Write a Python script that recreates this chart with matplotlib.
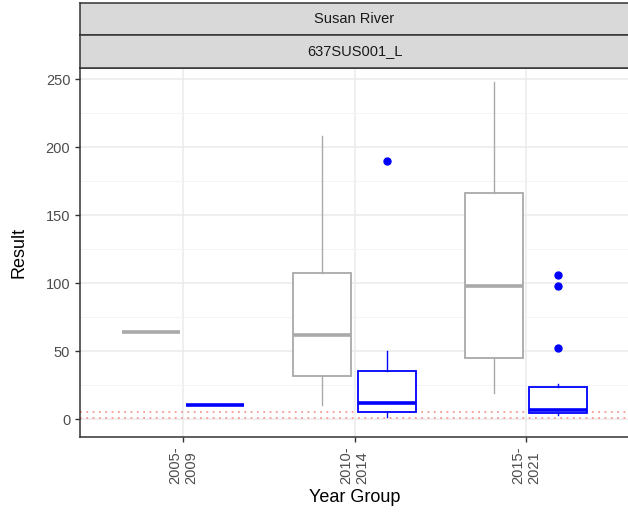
import matplotlib
matplotlib.use("Agg")
import matplotlib.pyplot as plt

plt.rcParams['font.family'] = ['Liberation Sans', 'DejaVu Sans']

# data (box stats per year group)
year_groups = ["2005-\n2009", "2010-\n2014", "2015-\n2021"]
site_name = "Susan River"
site_code = "637SUS001_L"

# gray series
gray_whislo = [64, 10, 19]
gray_q1 = [64, 32, 45]
gray_med = [64, 62, 98]
gray_q3 = [64, 107.5, 166]
gray_whishi = [64, 208, 248]
gray_fliers = [[], [], []]

# blue series
blue_whislo = [10, 1.8, 3]
blue_q1 = [10, 5.4, 4.2]
blue_med = [10, 12, 6.5]
blue_q3 = [10, 35, 23.3]
blue_whishi = [10, 50, 25.7]
blue_fliers = [[], [190], [106, 98, 52]]

guide_lines = [1, 5]

gray_col = "#A9A9A9"
blue_col = "#0000FF"

fig = plt.figure(figsize=(6.28, 5.15), dpi=100)
W, H = 628, 515
def box(l, t, r, b):
    return [l / W, 1 - b / H, (r - l) / W, (b - t) / H]

ax = fig.add_axes(box(80, 68, 629, 437))

def stats(lo, q1, med, q3, hi, fl):
    out = []
    for i in range(len(lo)):
        out.append(dict(whislo=lo[i], q1=q1[i], med=med[i], q3=q3[i], whishi=hi[i], fliers=fl[i]))
    return out

pos = list(range(1, len(year_groups) + 1))
off = 0.1875
bw = 0.3375
for st, col, sign in [(stats(gray_whislo, gray_q1, gray_med, gray_q3, gray_whishi, gray_fliers), gray_col, -1),
                      (stats(blue_whislo, blue_q1, blue_med, blue_q3, blue_whishi, blue_fliers), blue_col, 1)]:
    ax.bxp(st, positions=[p + sign * off for p in pos], widths=bw, showcaps=False,
           patch_artist=True,
           boxprops=dict(facecolor="white", edgecolor=col, linewidth=1.3),
           medianprops=dict(color=col, linewidth=2.6, solid_capstyle="butt"),
           whiskerprops=dict(color=col, linewidth=1.0),
           flierprops=dict(marker="o", markerfacecolor=col, markeredgecolor=col, markersize=5),
           manage_ticks=False, zorder=3)

for v in guide_lines:
    ax.axhline(v, color="#F59A93", linestyle=(0, (1, 2.5)), linewidth=1.3, zorder=2)

ax.set_xlim(0.4, 3.6)
ax.set_ylim(-13.2, 258.1)
ax.set_xticks(pos)
ax.set_xticklabels(year_groups, rotation=90, ha="right", va="center", multialignment="left",
                   rotation_mode="anchor")
ax.set_yticks([0, 50, 100, 150, 200, 250])
ax.set_yticks([25, 75, 125, 175, 225], minor=True)
ax.grid(True, which="major", color="#EBEBEB", linewidth=1.1, zorder=0)
ax.grid(True, which="minor", axis="y", color="#F3F3F3", linewidth=0.6, zorder=0)
ax.set_axisbelow(True)
ax.tick_params(axis="both", which="major", colors="#333333", labelcolor="#4D4D4D", labelsize=10.5, length=3.5, width=1)
ax.tick_params(axis="both", which="minor", length=0)
ax.tick_params(axis="x", pad=3)
for s in ax.spines.values():
    s.set_color("#333333")
    s.set_linewidth(1.1)
ax.set_xlabel("Year Group", fontsize=13, labelpad=4)
ax.set_ylabel("Result", fontsize=13, labelpad=13)

for (t, b, label) in [(3, 35, site_name), (35, 68, site_code)]:
    sa = fig.add_axes(box(80, t, 629, b))
    sa.set_xticks([])
    sa.set_yticks([])
    sa.set_facecolor("#D9D9D9")
    for s in sa.spines.values():
        s.set_color("#333333")
        s.set_linewidth(1.1)
    sa.text(0.5, 0.5, label, ha="center", va="center", fontsize=10.5, color="#1A1A1A",
            transform=sa.transAxes)

fig.savefig("out.png", dpi=100)
